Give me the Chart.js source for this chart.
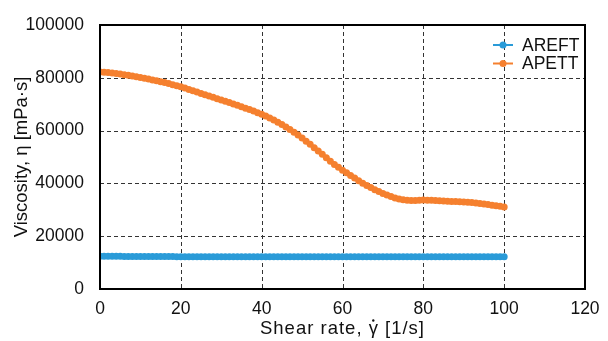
<!DOCTYPE html>
<html>
<head>
<meta charset="utf-8">
<script src="https://cdn.jsdelivr.net/npm/chart.js@4/dist/chart.umd.min.js"></script>
<style>
  html, body { margin: 0; padding: 0; background: #fff; }
  #wrap { width: 608px; height: 341px; }
</style>
</head>
<body>
<div id="wrap"><canvas id="viscChart" width="608" height="341"></canvas></div>
<script>
// せん断速度 [1/s]
const shearRates = [0, 1, 2, 3, 4, 5, 6, 7, 8, 9, 10, 11, 12, 13, 14, 15, 16, 17, 18, 19, 20,
  21, 22, 23, 24, 25, 26, 27, 28, 29, 30, 31, 32, 33, 34, 35, 36, 37, 38, 39, 40,
  41, 42, 43, 44, 45, 46, 47, 48, 49, 50, 51, 52, 53, 54, 55, 56, 57, 58, 59, 60,
  61, 62, 63, 64, 65, 66, 67, 68, 69, 70, 71, 72, 73, 74, 75, 76, 77, 78, 79, 80,
  81, 82, 83, 84, 85, 86, 87, 88, 89, 90, 91, 92, 93, 94, 95, 96, 97, 98, 99, 100];

// 粘度 [mPa·s]
const areftValues = [12400, 12400, 12400, 12400, 12400, 12400, 12350, 12350, 12350, 12350, 12350,
  12350, 12300, 12300, 12300, 12300, 12300, 12300, 12300, 12250, 12250,
  12250, 12250, 12250, 12250, 12250, 12250, 12250, 12250, 12200, 12200,
  12200, 12200, 12200, 12200, 12200, 12200, 12200, 12200, 12200, 12200,
  12200, 12200, 12200, 12200, 12200, 12200, 12200, 12200, 12200, 12200,
  12200, 12200, 12200, 12200, 12200, 12200, 12200, 12200, 12200, 12200,
  12200, 12200, 12200, 12200, 12200, 12200, 12200, 12200, 12200, 12200,
  12200, 12200, 12200, 12200, 12200, 12200, 12200, 12200, 12200, 12200,
  12200, 12200, 12200, 12200, 12200, 12200, 12200, 12200, 12200, 12200,
  12200, 12200, 12200, 12200, 12200, 12200, 12200, 12200, 12200, 12200];

const apettValues = [82200, 82100, 82000, 81800, 81600, 81400, 81200, 80950, 80700, 80400, 80100,
  79800, 79500, 79200, 78900, 78550, 78200, 77800, 77400, 77000, 76600,
  76100, 75600, 75100, 74600, 74100, 73600, 73100, 72600, 72100, 71600,
  71100, 70600, 70100, 69600, 69050, 68500, 67950, 67400, 66800, 66200,
  65500, 64800, 64000, 63200, 62300, 61400, 60400, 59400, 58300, 57200,
  56000, 54800, 53550, 52300, 51000, 49700, 48400, 47200, 46100, 45000,
  44000, 43000, 42000, 41000, 40100, 39200, 38400, 37600, 36900, 36200,
  35600, 35000, 34500, 34100, 33800, 33600, 33500, 33500, 33600, 33700,
  33650, 33600, 33500, 33400, 33300, 33200, 33150, 33100, 33050, 33000,
  32900, 32800, 32600, 32400, 32200, 32000, 31750, 31500, 31300, 31100];

const seriesNames = ['AREFT', 'APETT'];
const xTicks = [0, 20, 40, 60, 80, 100, 120];
const yTicks = [0, 20000, 40000, 60000, 80000, 100000];

const blueColor = '#2a9bd8';
const orangeColor = '#f5802f';
const fontFamily = '"Liberation Sans", Arial, sans-serif';
const tickFont = { family: fontFamily, size: 17.5 };
const titleFont = { family: fontFamily, size: 18.5 };

// 破線グリッド（枠の内側のみ）
const gridPlugin = {
  id: 'dashGrid',
  beforeDatasetsDraw(chart) {
    const { ctx, chartArea: a, scales } = chart;
    ctx.save();
    ctx.strokeStyle = '#333';
    ctx.lineWidth = 1;
    ctx.setLineDash([4, 3]);
    xTicks.forEach(v => {
      const px = Math.round(scales.x.getPixelForValue(v)) + 0.5;
      if (px <= a.left + 1 || px >= a.right - 1) return;
      ctx.beginPath();
      ctx.moveTo(px, a.top);
      ctx.lineTo(px, a.bottom);
      ctx.stroke();
    });
    yTicks.forEach(v => {
      const py = Math.round(scales.y.getPixelForValue(v)) + 0.5;
      if (py <= a.top + 1 || py >= a.bottom - 1) return;
      ctx.beginPath();
      ctx.moveTo(a.left, py);
      ctx.lineTo(a.right, py);
      ctx.stroke();
    });
    ctx.restore();
  }
};

// 枠線・凡例・x軸タイトル
const framePlugin = {
  id: 'frame',
  afterDraw(chart) {
    const { ctx, chartArea: a } = chart;
    ctx.save();
    ctx.strokeStyle = '#000';
    ctx.lineWidth = 2;
    ctx.strokeRect(a.left, a.top, a.right - a.left, a.bottom - a.top);

    // 凡例
    const colors = [blueColor, orangeColor];
    ctx.font = '17.5px ' + fontFamily;
    ctx.textBaseline = 'middle';
    seriesNames.forEach((name, i) => {
      const y = a.top + 20 + i * 18.5;
      const x0 = a.right - 92;
      ctx.strokeStyle = colors[i];
      ctx.lineWidth = 2;
      ctx.beginPath();
      ctx.moveTo(x0, y);
      ctx.lineTo(x0 + 20, y);
      ctx.stroke();
      ctx.fillStyle = colors[i];
      ctx.beginPath();
      ctx.arc(x0 + 10, y, 3.5, 0, Math.PI * 2);
      ctx.fill();
      ctx.fillStyle = '#111';
      ctx.fillText(name, x0 + 29, y + 1);
    });

    // x軸タイトル（γの上に点）
    const pre = 'Shear rate, ';
    const text = pre + 'γ [1/s]';
    ctx.font = '18.5px ' + fontFamily;
    ctx.letterSpacing = '1px';
    ctx.textBaseline = 'alphabetic';
    ctx.textAlign = 'left';
    const w = ctx.measureText(text).width;
    const tx = (a.left + a.right) / 2 - w / 2;
    const ty = 334;
    ctx.fillStyle = '#111';
    ctx.fillText(text, tx, ty);
    const gx = tx + ctx.measureText(pre).width + (ctx.measureText('γ').width - 1) / 2;
    ctx.beginPath();
    ctx.arc(gx, ty - 13.5, 1.2, 0, Math.PI * 2);
    ctx.fill();
    ctx.restore();
  }
};

function makeDataset(label, values, color) {
  return {
    label: label,
    data: shearRates.map((x, i) => ({ x: x, y: values[i] })),
    borderColor: color,
    backgroundColor: color,
    borderWidth: 3,
    pointRadius: 3.5,
    pointBorderWidth: 0,
    tension: 0,
    fill: false
  };
}

new Chart(document.getElementById('viscChart').getContext('2d'), {
  type: 'line',
  data: {
    datasets: [
      makeDataset(seriesNames[0], areftValues, blueColor),
      makeDataset(seriesNames[1], apettValues, orangeColor)
    ]
  },
  options: {
    responsive: false,
    animation: false,
    devicePixelRatio: 1,
    layout: { padding: { top: 25, right: 23, left: 0, bottom: 0 } },
    plugins: {
      legend: { display: false },
      tooltip: { enabled: false }
    },
    scales: {
      x: {
        type: 'linear',
        min: 0,
        max: 120,
        afterBuildTicks: (scale) => { scale.ticks = xTicks.map(v => ({ value: v })); },
        afterFit: (scale) => { scale.height = 52; },
        ticks: {
          color: '#111',
          font: tickFont,
          padding: 2,
          maxRotation: 0
        },
        grid: { display: false },
        border: { display: false }
      },
      y: {
        min: 0,
        max: 100000,
        afterBuildTicks: (scale) => { scale.ticks = yTicks.map(v => ({ value: v })); },
        afterFit: (scale) => { scale.width = 100; },
        ticks: {
          color: '#111',
          font: tickFont,
          padding: 8,
          callback: (v) => String(v)
        },
        grid: { display: false },
        border: { display: false },
        title: {
          display: true,
          text: 'Viscosity, η [mPa·s]',
          color: '#111',
          font: titleFont,
          padding: { top: 11, bottom: 0 }
        }
      }
    }
  },
  plugins: [gridPlugin, framePlugin]
});
</script>
</body>
</html>
